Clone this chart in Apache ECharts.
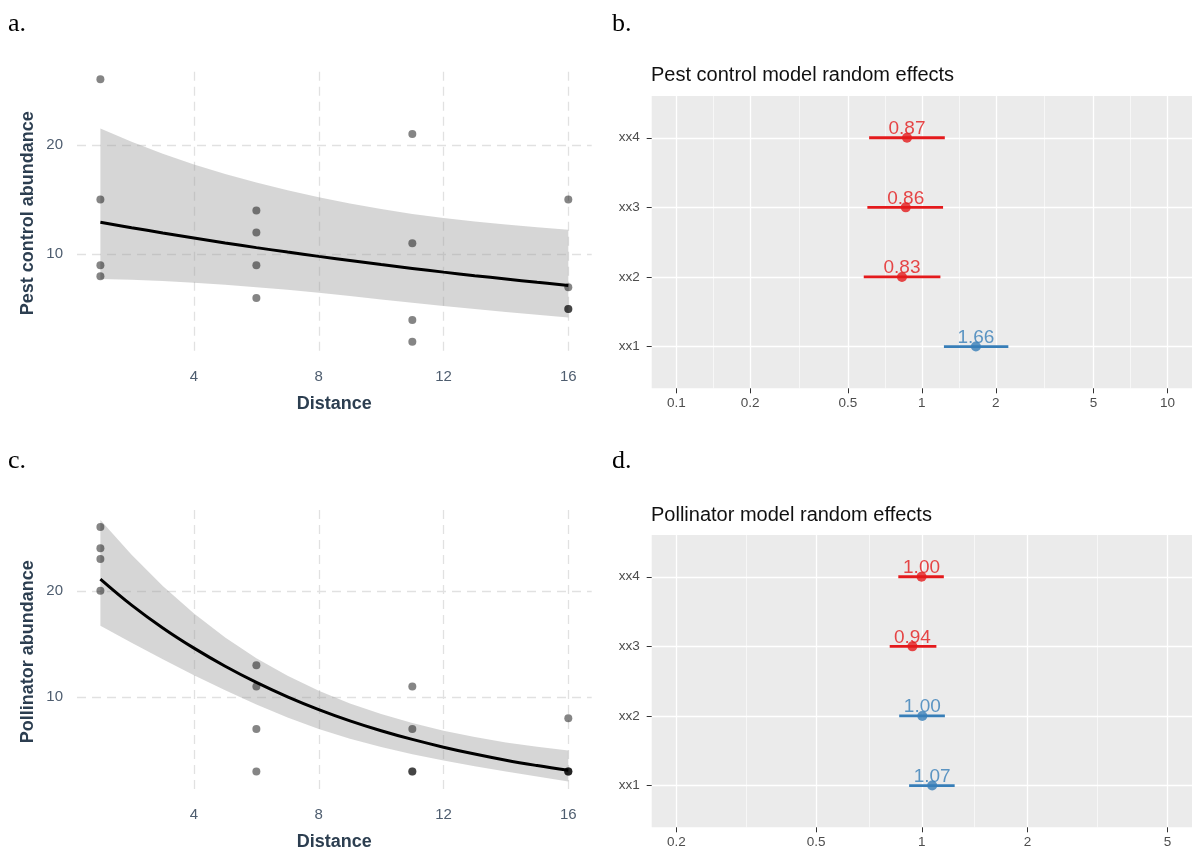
<!DOCTYPE html>
<html>
<head>
<meta charset="utf-8">
<title>Distance and random effects</title>
<script src="https://cdn.jsdelivr.net/npm/echarts@6/dist/echarts.min.js"></script>
<style>
  html, body { margin: 0; padding: 0; background: #fff; }
  #container { width: 1192px; height: 852px; }
</style>
</head>
<body>
<div id="container"></div>
<script>
// ---- data ----
// fitted curves + confidence band, sampled at each distance
var fitX = [1, 2, 3, 4, 5, 6, 7, 8, 9, 10, 11, 12, 13, 14, 15, 16];

var pestFit  = [12.93, 12.43, 11.95, 11.49, 11.04, 10.61, 10.20, 9.81, 9.43, 9.06, 8.71, 8.37, 8.05, 7.74, 7.44, 7.15];
var pestLow  = [7.75, 7.67, 7.55, 7.40, 7.22, 7.00, 6.75, 6.48, 6.18, 5.87, 5.57, 5.28, 5.00, 4.73, 4.47, 4.22];
var pestHigh = [21.5, 20.28, 19.18, 18.2, 17.33, 16.55, 15.85, 15.22, 14.65, 14.14, 13.68, 13.32, 13.0, 12.72, 12.47, 12.25];

var pollFit  = [21.1, 18.65, 16.5, 14.6, 12.9, 11.38, 10.02, 8.82, 7.76, 6.83, 6.01, 5.28, 4.63, 4.05, 3.55, 3.10];
var pollLow  = [16.7, 15.1, 13.55, 12.05, 10.63, 9.3, 8.08, 6.98, 6.08, 5.3, 4.62, 4.02, 3.48, 2.98, 2.51, 2.06];
var pollHigh = [26.65, 23.4, 20.45, 17.85, 15.6, 13.65, 12.0, 10.6, 9.4, 8.4, 7.55, 6.83, 6.23, 5.73, 5.31, 4.96];

// raw observations
var siteDist = [1, 1, 1, 1, 6, 6, 6, 6, 11, 11, 11, 11, 16, 16, 16, 16];
var pestObs  = [26, 15, 9, 8, 14, 12, 9, 6, 21, 11, 4, 2, 15, 7, 5, 5];
var pollObs  = [26, 24, 23, 20, 13, 11, 7, 3, 11, 7, 3, 3, 8, 3, 3, 3];

// random effects (estimate, lower, upper), bottom to top
var groups  = ['xx1', 'xx2', 'xx3', 'xx4'];
var pestEst = [1.66, 0.83, 0.86, 0.87];
var pestLo  = [1.23, 0.58, 0.60, 0.61];
var pestHi  = [2.25, 1.19, 1.22, 1.24];
var pollEst = [1.07, 1.003, 0.94, 0.998];
var pollLo  = [0.92, 0.862, 0.81, 0.857];
var pollHi  = [1.24, 1.163, 1.10, 1.155];

// tick labels
var distTicks  = [4, 8, 12, 16];
var abundTicks = [10, 20];
var pestTicks  = [0.1, 0.2, 0.5, 1, 2, 5, 10];
var pollTicks  = [0.2, 0.5, 1, 2, 5];

// ---- styling ----
var SANS = '"Liberation Sans", Arial, sans-serif';
var RED = '#E41A1C', BLUE = '#377EB8';
var TICK_COL = '#4e5d6f', TITLE_COL = '#2c3e50';

// minor grid lines of a log axis sit halfway (in log space) between the majors
function minors(ticks) {
    var out = [];
    for (var i = 0; i < ticks.length - 1; i++) out.push(Math.sqrt(ticks[i] * ticks[i + 1]));
    return out;
}

function pairs(xs, ys) {
    return xs.map(function (x, i) { return [x, ys[i]]; });
}

var dashed = { show: true, lineStyle: { color: '#e1e1e1', width: 1.3, type: [9, 6] } };

function distAxis(grid) {
    return {
        type: 'value', gridIndex: grid, min: 0.25, max: 16.75,
        name: 'Distance', nameLocation: 'middle', nameGap: 40,
        nameTextStyle: { fontSize: 18, fontWeight: 'bold', color: TITLE_COL, fontFamily: SANS },
        axisLine: { show: false },
        axisTick: { show: false, customValues: distTicks },
        axisLabel: { customValues: distTicks, fontSize: 15, color: TICK_COL, margin: 14, fontFamily: SANS },
        splitLine: dashed
    };
}

function abundAxis(grid, name, min, max) {
    return {
        type: 'value', gridIndex: grid, min: min, max: max,
        name: name, nameLocation: 'middle', nameRotate: 90, nameGap: 40,
        nameTextStyle: { fontSize: 18, fontWeight: 'bold', color: TITLE_COL, fontFamily: SANS },
        axisLine: { show: false },
        axisTick: { show: false, customValues: abundTicks },
        axisLabel: { customValues: abundTicks, fontSize: 15, color: TICK_COL, margin: 14, fontFamily: SANS },
        splitLine: dashed
    };
}

function logAxis(grid, ticks, min, max) {
    return {
        type: 'log', gridIndex: grid, min: min, max: max, position: 'bottom',
        axisLine: { show: false },
        axisTick: { show: true, customValues: ticks, length: 5, lineStyle: { color: '#333', width: 1 } },
        axisLabel: {
            customValues: ticks, fontSize: 13.5, color: '#4d4d4d', margin: 8, fontFamily: SANS,
            formatter: function (v) { return String(+(+v).toPrecision(3)); }
        },
        splitLine: { show: true, lineStyle: { color: '#fff', width: 1.3 } }
    };
}

function minorAxis(grid, ticks, min, max) {
    return {
        type: 'log', gridIndex: grid, min: min, max: max, position: 'top',
        axisLine: { show: false },
        axisTick: { show: false, customValues: minors(ticks) },
        axisLabel: { show: false },
        splitLine: { show: true, lineStyle: { color: '#fff', width: 0.6 } }
    };
}

function groupAxis(grid) {
    var pos = groups.map(function (g, i) { return i + 1; });
    return {
        type: 'value', gridIndex: grid, min: 0.4, max: 4.6,
        axisLine: { show: false },
        axisTick: { show: true, customValues: pos, length: 5, lineStyle: { color: '#333', width: 1 } },
        axisLabel: {
            customValues: pos, fontSize: 13.5, color: '#4d4d4d', margin: 12, fontFamily: SANS,
            formatter: function (v) { return groups[Math.round(v) - 1]; }
        },
        splitLine: { show: true, lineStyle: { color: '#fff', width: 1.3 } }
    };
}

// grey confidence band drawn as one polygon through the axis scales
function ribbon(ax, low, high) {
    return {
        type: 'custom', xAxisIndex: ax, yAxisIndex: ax === 0 ? 0 : 2, silent: true, z: 1,
        data: fitX.map(function (x, i) { return [x, low[i], high[i]]; }),
        encode: { x: 0, y: [1, 2] },
        renderItem: function (params, api) {
            if (params.dataIndex !== 0) return null;
            var pts = [];
            for (var i = 0; i < fitX.length; i++) pts.push(api.coord([fitX[i], high[i]]));
            for (var j = fitX.length - 1; j >= 0; j--) pts.push(api.coord([fitX[j], low[j]]));
            return { type: 'polygon', shape: { points: pts }, style: { fill: 'rgba(153,153,153,0.4)' } };
        }
    };
}

function fitLine(ax, fit) {
    return {
        type: 'line', xAxisIndex: ax, yAxisIndex: ax === 0 ? 0 : 2, z: 3,
        data: pairs(fitX, fit), showSymbol: false, smooth: 0.4, silent: true,
        lineStyle: { color: '#000', width: 3 }
    };
}

function obsPoints(ax, obs) {
    return {
        type: 'scatter', xAxisIndex: ax, yAxisIndex: ax === 0 ? 0 : 2, z: 4,
        data: pairs(siteDist, obs), symbolSize: 8, silent: true,
        itemStyle: { color: 'rgba(0,0,0,0.6)' }
    };
}

function colourOf(v) { return v < 1 ? RED : BLUE; }

function errBars(xi, yi, est, lo, hi) {
    return {
        type: 'custom', xAxisIndex: xi, yAxisIndex: yi, silent: true, z: 3,
        data: groups.map(function (g, i) { return [lo[i], hi[i], i + 1, est[i]]; }),
        encode: { x: [0, 1], y: 2 },
        renderItem: function (params, api) {
            var a = api.coord([api.value(0), api.value(2)]);
            var b = api.coord([api.value(1), api.value(2)]);
            return {
                type: 'line',
                shape: { x1: a[0], y1: a[1], x2: b[0], y2: b[1] },
                style: { stroke: colourOf(api.value(3)), lineWidth: 2.8 }
            };
        }
    };
}

function effectDots(xi, yi, est) {
    return {
        type: 'scatter', xAxisIndex: xi, yAxisIndex: yi, silent: true, z: 4,
        symbolSize: 10,
        data: groups.map(function (g, i) {
            var c = colourOf(est[i]);
            return { value: [est[i], i + 1], itemStyle: { color: c }, label: { color: c } };
        }),
        label: {
            show: true, position: 'inside', offset: [0, -9],
            fontSize: 19, fontFamily: SANS,
            formatter: function (p) { return p.value[0].toFixed(2); }
        }
    };
}

function letter(txt, x, y) {
    return {
        type: 'text', x: x, y: y, silent: true,
        style: { text: txt, fontSize: 26, fontFamily: '"Liberation Serif", "Times New Roman", serif', fill: '#000', verticalAlign: 'middle' }
    };
}

var dom = document.getElementById('container');
var myChart = echarts.init(dom, null, { renderer: 'canvas' });

var option = {
    animation: false,
    backgroundColor: '#fff',
    title: [
        { text: 'Pest control model random effects', left: 651, top: 65, padding: 0,
          textStyle: { fontSize: 20, fontWeight: 'normal', color: '#111', fontFamily: SANS } },
        { text: 'Pollinator model random effects', left: 651, top: 505, padding: 0,
          textStyle: { fontSize: 20, fontWeight: 'normal', color: '#111', fontFamily: SANS } }
    ],
    graphic: [
        letter('a.', 8, 24),
        letter('b.', 612, 24),
        letter('c.', 8, 461),
        letter('d.', 612, 461)
    ],
    grid: [
        { left: 77, top: 71.7, width: 514.7, height: 283.3, outerBoundsMode: 'none' },
        { left: 651.7, top: 96, width: 540.3, height: 292.3, show: true, backgroundColor: '#ebebeb', borderWidth: 0, outerBoundsMode: 'none' },
        { left: 77, top: 510, width: 514.7, height: 283.3, outerBoundsMode: 'none' },
        { left: 651.7, top: 535, width: 540.3, height: 292.3, show: true, backgroundColor: '#ebebeb', borderWidth: 0, outerBoundsMode: 'none' }
    ],
    xAxis: [
        distAxis(0),
        logAxis(1, pestTicks, Math.pow(10, -1.1), Math.pow(10, 1.1)),
        minorAxis(1, pestTicks, Math.pow(10, -1.1), Math.pow(10, 1.1)),
        distAxis(2),
        logAxis(3, pollTicks, Math.pow(10, -0.769), Math.pow(10, 0.769)),
        minorAxis(3, pollTicks, Math.pow(10, -0.769), Math.pow(10, 0.769))
    ],
    yAxis: [
        abundAxis(0, 'Pest control abundance', 0.8, 26.68),
        groupAxis(1),
        abundAxis(2, 'Pollinator abundance', 0.94, 27.6),
        groupAxis(3)
    ],
    series: [
        // a. pest control vs distance
        ribbon(0, pestLow, pestHigh),
        fitLine(0, pestFit),
        obsPoints(0, pestObs),
        // c. pollinators vs distance
        ribbon(3, pollLow, pollHigh),
        fitLine(3, pollFit),
        obsPoints(3, pollObs),
        // b. pest control random effects
        errBars(1, 1, pestEst, pestLo, pestHi),
        effectDots(1, 1, pestEst),
        // d. pollinator random effects
        errBars(4, 3, pollEst, pollLo, pollHi),
        effectDots(4, 3, pollEst)
    ]
};
myChart.setOption(option, true);
</script>
</body>
</html>
